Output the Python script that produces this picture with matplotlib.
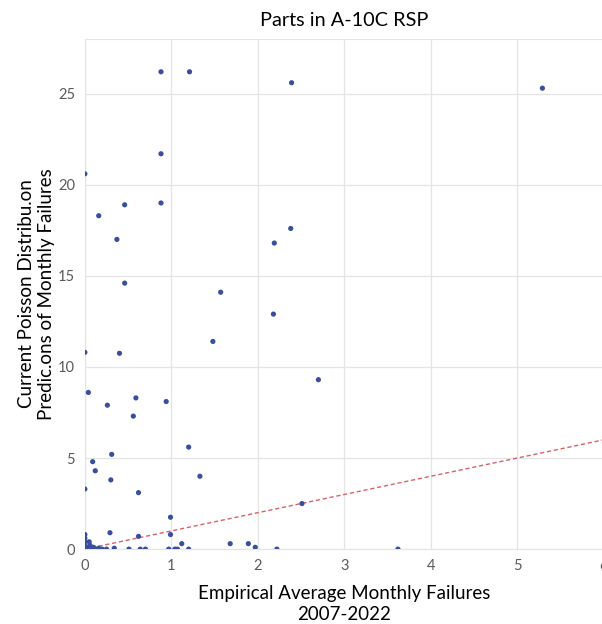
import numpy as np
import matplotlib.pyplot as plt

# empirical avg monthly failures (x) vs current poisson prediction (y)
emp_failures = [
    0.88, 1.21, 2.39, 5.29,
    0.88, 0.0,
    0.46, 0.88, 0.16, 0.37,
    2.38, 2.19, 0.46, 1.57, 2.18, 1.48,
    0.0, 0.40,
    2.70, 0.04, 0.26, 0.59, 0.56, 0.94,
    0.0, 0.09, 0.12, 0.31, 0.30, 0.62, 1.20, 1.33,
    0.29, 0.62, 0.99, 0.99, 1.12, 1.68, 1.89, 1.97, 2.22, 2.51, 3.62,
    0.20, 0.25, 0.34, 0.51, 0.64, 0.70, 0.97, 1.04, 1.07, 1.20,
    0.0, 0.0, 0.0, 0.0, 0.0, 0.03, 0.05, 0.06, 0.08, 0.10, 0.13, 0.16,
]
poisson_pred = [
    26.2, 26.2, 25.6, 25.3,
    21.7, 20.6,
    18.9, 19.0, 18.3, 17.0,
    17.6, 16.8, 14.6, 14.1, 12.9, 11.4,
    10.8, 10.75,
    9.3, 8.6, 7.9, 8.3, 7.3, 8.1,
    3.3, 4.8, 4.3, 5.2, 3.8, 3.1, 5.6, 4.0,
    0.9, 0.7, 1.75, 0.8, 0.3, 0.3, 0.3, 0.1, 0.0, 2.5, 0.0,
    0.0, 0.0, 0.05, 0.0, 0.0, 0.0, 0.0, 0.0, 0.0, 0.0,
    0.0, 0.2, 0.4, 0.6, 0.8, 0.1, 0.4, 0.2, 0.0, 0.1, 0.0, 0.05,
]
ref_line = [0, 6]  # y = x reference

plt.rcParams['font.family'] = ['Lato', 'DejaVu Sans']

fig = plt.figure(figsize=(6.02, 6.24), dpi=100)
ax = fig.add_axes([0.141, 0.12, 0.862, 0.8175])

ax.grid(True, color='#e4e4e4', linewidth=0.9)
ax.set_axisbelow(True)
for sp in ax.spines.values():
    sp.set_color('#e4e4e4')

ax.plot(ref_line, ref_line, linestyle='--', color='#d9606a', linewidth=1.0, dashes=(3, 2))
ax.scatter(emp_failures, poisson_pred, s=14, color='#3a4e9e', edgecolors='none', zorder=3)

ax.set_xlim(0, 6)
ax.set_ylim(0, 28)
ax.set_xticks(np.arange(0, 7, 1))
ax.set_yticks(np.arange(0, 30, 5))
ax.tick_params(length=0, labelsize=10.5, labelcolor='#5a5a5a', pad=7)

ax.set_title('Parts in A-10C RSP', fontsize=14.3, pad=9)
ax.set_xlabel('Empirical Average Monthly Failures\n2007-2022', fontsize=13.5,
              labelpad=9, linespacing=1.25)
ax.set_ylabel('Current Poisson Distribu.on\nPredic.ons of Monthly Failures', fontsize=13.5,
              labelpad=2, linespacing=1.25)

fig.savefig('out.png', dpi=100)
